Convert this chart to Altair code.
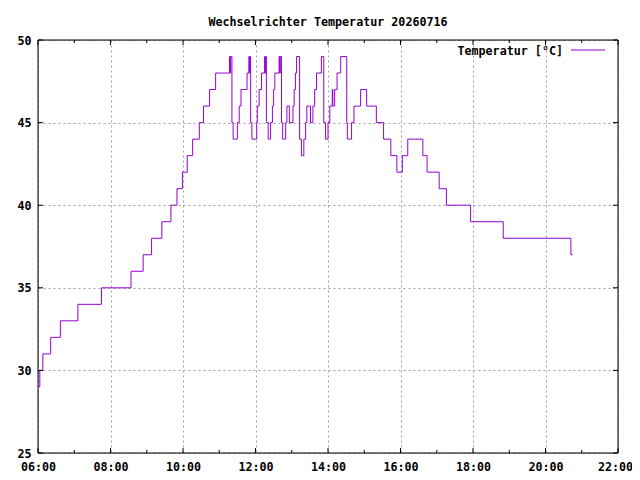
import altair as alt
import pandas as pd

# ---- data ----
times = ["06:01", "06:03", "06:08", "06:21", "06:37", "07:06", "07:45", "08:34", "08:54",
         "09:08", "09:25", "09:40", "09:50", "09:59", "10:07", "10:16", "10:27", "10:34",
         "10:44", "10:54", "11:17", "11:18", "11:19", "11:21", "11:23", "11:30", "11:33",
         "11:36", "11:46", "11:49", "11:50", "11:51", "11:52", "11:54", "12:02", "12:03",
         "12:06", "12:10", "12:15", "12:16", "12:17", "12:18", "12:21", "12:25", "12:28",
         "12:30", "12:32", "12:39", "12:40", "12:41", "12:43", "12:45", "12:50", "12:52",
         "12:56", "13:02", "13:04", "13:06", "13:08", "13:13", "13:16", "13:20", "13:23",
         "13:25", "13:31", "13:35", "13:38", "13:41", "13:49", "13:53", "13:56", "14:00",
         "14:03", "14:07", "14:08", "14:11", "14:15", "14:21", "14:31", "14:32", "14:39",
         "14:43", "14:54", "15:04", "15:20", "15:32", "15:44", "15:54", "16:03", "16:12",
         "16:37", "16:44", "17:04", "17:16", "17:56", "18:50", "20:42", "20:45"]
temps = [29, 30, 31, 32, 33, 34, 35, 36, 37,
         38, 39, 40, 41, 42, 43, 44, 45, 46,
         47, 48, 49, 48, 49, 45, 44, 45, 46,
         47, 48, 49, 48, 49, 45, 44, 45, 46,
         47, 48, 49, 48, 49, 45, 44, 45, 46,
         47, 48, 49, 48, 49, 45, 44, 45, 46,
         45, 46, 47, 48, 49, 44, 43, 44, 45,
         46, 45, 46, 47, 48, 49, 45, 44, 45,
         46, 47, 46, 47, 48, 49, 45, 44, 45,
         46, 47, 46, 45, 44, 43, 42, 43, 44,
         43, 42, 41, 40, 39, 38, 37, 37]

series_name = "Temperatur [°C]"
title_text = "Wechselrichter Temperatur 20260716"
x_major_hours = [6, 8, 10, 12, 14, 16, 18, 20, 22]
x_minor_hours = [7, 9, 11, 13, 15, 17, 19, 21]
y_ticks = [25, 30, 35, 40, 45, 50]
line_color = "#9400D3"

W, H = 580, 413
FONT = "DejaVu Sans Mono"
FS = 11.7


def to_hours(s):
    h, m = s.split(":")
    return int(h) + int(m) / 60.0


df = pd.DataFrame({"hour": [to_hours(t) for t in times], "temp": temps,
                   "series": [series_name] * len(times)})

x_scale = alt.Scale(domain=[6, 22], nice=False, zero=False)
y_scale = alt.Scale(domain=[25, 50], nice=False, zero=False)

x_axis = alt.Axis(values=x_major_hours,
                  labelExpr="(datum.value < 10 ? '0' : '') + datum.value + ':00'",
                  grid=True, gridColor="#a0a0a0", gridDash=[2, 3], gridWidth=1,
                  ticks=False, domain=False, labelFont=FONT, labelFontWeight="bold",
                  labelFontSize=FS, labelColor="black", labelPadding=8,
                  labelOffset={"condition": {"test": "datum.value == 22", "value": -3},
                               "value": 0},
                  labelOverlap=False, labelFlush=False, labelBound=False, title=None)
y_axis = alt.Axis(values=y_ticks, grid=True, gridColor="#a0a0a0", gridDash=[2, 3],
                  gridWidth=1, ticks=False, domain=False, labelFont=FONT,
                  labelFontWeight="bold", labelFontSize=FS, labelColor="black",
                  labelPadding=7, labelOverlap=False, labelFlush=False,
                  labelBound=False, title=None)

line = alt.Chart(df).mark_line(interpolate="step-after", strokeWidth=1).encode(
    x=alt.X("hour:Q", scale=x_scale, axis=x_axis),
    y=alt.Y("temp:Q", scale=y_scale, axis=y_axis),
    color=alt.Color("series:N", scale=alt.Scale(domain=[series_name], range=[line_color]),
                    legend=None),
)

xmaj = pd.DataFrame({"hour": x_major_hours})
xmin = pd.DataFrame({"hour": x_minor_hours})
yt = pd.DataFrame({"temp": y_ticks})


def xticks(d, y0, y1):
    return alt.Chart(d).mark_rule(color="black", strokeWidth=1).encode(
        x=alt.X("hour:Q", scale=x_scale, title=None), y=alt.value(y0), y2=alt.value(y1))


def yticks(x0, x1):
    return alt.Chart(yt).mark_rule(color="black", strokeWidth=1).encode(
        y=alt.Y("temp:Q", scale=y_scale, title=None), x=alt.value(x0), x2=alt.value(x1))


one = pd.DataFrame({"k": [0]})

border = alt.Chart(one).mark_rect(fill="transparent", stroke="black", strokeWidth=1).encode(
    x=alt.value(0), x2=alt.value(W), y=alt.value(0), y2=alt.value(H))

title = alt.Chart(one).mark_text(text=title_text, font=FONT, fontWeight="bold",
                                 fontSize=FS, color="black", align="center",
                                 baseline="alphabetic").encode(
    x=alt.value(W / 2), y=alt.value(-14))

legend_text = alt.Chart(one).mark_text(text=series_name, font=FONT, fontWeight="bold",
                                       fontSize=FS, color="black", align="right",
                                       baseline="alphabetic").encode(
    x=alt.value(525), y=alt.value(15))

legend_line = alt.Chart(one).mark_rule(color=line_color, strokeWidth=1).encode(
    x=alt.value(533), x2=alt.value(567), y=alt.value(10))

chart = alt.layer(
    line,
    xticks(xmaj, H, H - 5), xticks(xmaj, 0, 5),
    xticks(xmin, H, H - 3), xticks(xmin, 0, 3),
    yticks(0, 5), yticks(W, W - 5),
    border, title, legend_text, legend_line,
).properties(
    width=W, height=H,
    autosize=alt.AutoSizeParams(type="none"),
    padding={"left": 30, "top": 32, "right": 14, "bottom": 19},
).configure_view(stroke=None).configure(background="white")

chart.save("out.html", embed_options={"renderer": "svg", "actions": False})
